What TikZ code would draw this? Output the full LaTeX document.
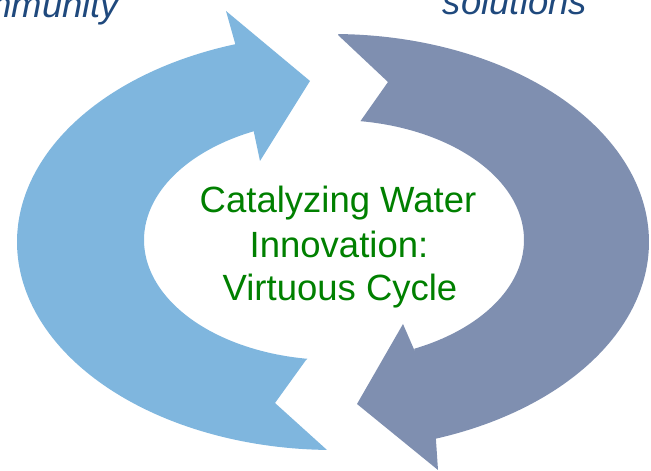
\documentclass[tikz,border=0pt]{standalone}
\usepackage{fontspec}
\setmainfont{Liberation Sans}
\definecolor{leftblue}{RGB}{127,182,222}
\definecolor{rightblue}{RGB}{127,143,176}
\definecolor{txtgreen}{RGB}{0,128,0}
\definecolor{txtblue}{RGB}{31,73,125}
\begin{document}
\begin{tikzpicture}[x=1pt,y=1pt,
  bigtext/.style={inner sep=0pt, font=\fontsize{36.5}{44}\selectfont},
  toptext/.style={bigtext, text=txtblue, font=\fontsize{36.5}{44}\selectfont\itshape},
  midtext/.style={bigtext, text=txtgreen}]
\useasboundingbox (0,0) rectangle (651,471);
\clip (0,0) rectangle (651,471);
% left (light blue) arrow
\fill[leftblue] (327,21) -- (275,68) -- (306,111)
  -- plot[domain=262:115, samples=90] ({334+190*cos(\x)},{231+120*sin(\x)})
  -- (260,310) -- (310,390) -- (226,460) -- (235,428)
  -- plot[domain=108:268, samples=120] ({333+316*cos(\x)},{229+208*sin(\x)})
  -- cycle;
% right (grey-blue) arrow
\fill[rightblue] (338,436)
  -- plot[domain=89:-71, samples=120] ({333+316*cos(\x)},{229+208*sin(\x)})
  -- (438,1) -- (357,67) -- (403,147) -- (416,117)
  -- plot[domain=-65:82, samples=90] ({334+190*cos(\x)},{231+120*sin(\x)})
  -- (388,389) -- cycle;
% texts
\node[toptext, anchor=base west] (tl) at (-19,453) {mmunity};
\node[toptext, anchor=base] (tr) at (515,456) {solutions};
\node[midtext, anchor=base] (c1) at (338,258) {Catalyzing Water};
\node[midtext, anchor=base] (c2) at (339,213) {Innovation:};
\node[midtext, anchor=base] (c3) at (340,170) {Virtuous Cycle};
\end{tikzpicture}
\end{document}
